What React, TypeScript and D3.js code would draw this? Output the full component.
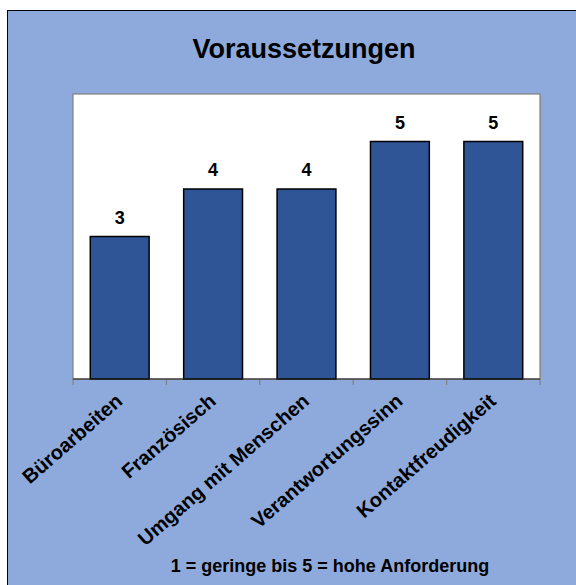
import React, { useEffect, useRef } from 'react';
import * as d3 from 'd3';

const categories = ['Büroarbeiten', 'Französisch', 'Umgang mit Menschen', 'Verantwortungssinn', 'Kontaktfreudigkeit'];
const values = [3, 4, 4, 5, 5];
const title = 'Voraussetzungen';
const footer = '1 = geringe bis 5 = hohe Anforderung';

const W = 576;
const H = 585;
const FONT = 'Arial, "Liberation Sans", sans-serif';

function App() {
  const ref = useRef<SVGSVGElement>(null);

  useEffect(() => {
    const svg = d3.select(ref.current);
    svg.selectAll('*').remove();

    // chart area background with black frame on top/left
    svg.append('rect')
      .attr('x', 7.5).attr('y', 10.5)
      .attr('width', W).attr('height', H)
      .attr('fill', '#8eaadc')
      .attr('stroke', '#000').attr('stroke-width', 1);

    svg.append('text')
      .attr('x', 304).attr('y', 58)
      .attr('text-anchor', 'middle')
      .style('font', `bold 27px ${FONT}`)
      .text(title);

    const plot = { left: 73, top: 94, right: 540, bottom: 379 };

    const x = d3.scaleBand()
      .domain(categories)
      .range([plot.left, plot.right])
      .paddingInner(0.37)
      .paddingOuter(0.185);

    const y = d3.scaleLinear().domain([0, 6]).range([plot.bottom, plot.top]);

    // plot area
    svg.append('rect')
      .attr('x', plot.left + 1).attr('y', plot.top + 1)
      .attr('width', plot.right - plot.left).attr('height', plot.bottom - plot.top)
      .attr('fill', '#9a9a9a');
    svg.append('rect')
      .attr('x', plot.left).attr('y', plot.top)
      .attr('width', plot.right - plot.left).attr('height', plot.bottom - plot.top)
      .attr('fill', '#fff')
      .attr('stroke', '#808080').attr('stroke-width', 1.2);

    // category ticks
    const step = (plot.right - plot.left) / categories.length;
    const ticks = d3.range(categories.length + 1).map((i) => plot.left + i * step);
    svg.append('g').selectAll('line')
      .data(ticks)
      .enter().append('line')
      .attr('x1', (d) => d).attr('x2', (d) => d)
      .attr('y1', plot.bottom).attr('y2', plot.bottom + 6)
      .attr('stroke', '#808080').attr('stroke-width', 1.2);

    svg.append('g').selectAll('rect')
      .data(values)
      .enter().append('rect')
      .attr('x', (d, i) => x(categories[i])!)
      .attr('y', (d) => y(d))
      .attr('width', x.bandwidth())
      .attr('height', (d) => y(0) - y(d))
      .attr('fill', '#2f5597')
      .attr('stroke', '#000').attr('stroke-width', 1.5);

    // axis line
    svg.append('line')
      .attr('x1', plot.left).attr('x2', plot.right)
      .attr('y1', plot.bottom).attr('y2', plot.bottom)
      .attr('stroke', '#222').attr('stroke-width', 1.2);

    svg.append('g').selectAll('text')
      .data(values)
      .enter().append('text')
      .attr('x', (d, i) => x(categories[i])! + x.bandwidth() / 2)
      .attr('y', (d) => y(d) - 13)
      .attr('text-anchor', 'middle')
      .style('font', `bold 18px ${FONT}`)
      .text((d) => d);

    svg.append('g').selectAll('text')
      .data(categories)
      .enter().append('text')
      .attr('transform', (d) => `translate(${x(d)! + x.bandwidth() / 2 + 4},${plot.bottom + 24}) rotate(-41)`)
      .attr('text-anchor', 'end')
      .style('font', `bold 20px ${FONT}`)
      .text((d) => d);

    svg.append('text')
      .attr('x', 330).attr('y', 572)
      .attr('text-anchor', 'middle')
      .style('font', `bold 18px ${FONT}`)
      .text(footer);
  }, []);

  return (
    <svg ref={ref} width={W} height={H}
      style={{ position: 'absolute', left: 0, top: 0, display: 'block' }} />
  );
}

export default App;
